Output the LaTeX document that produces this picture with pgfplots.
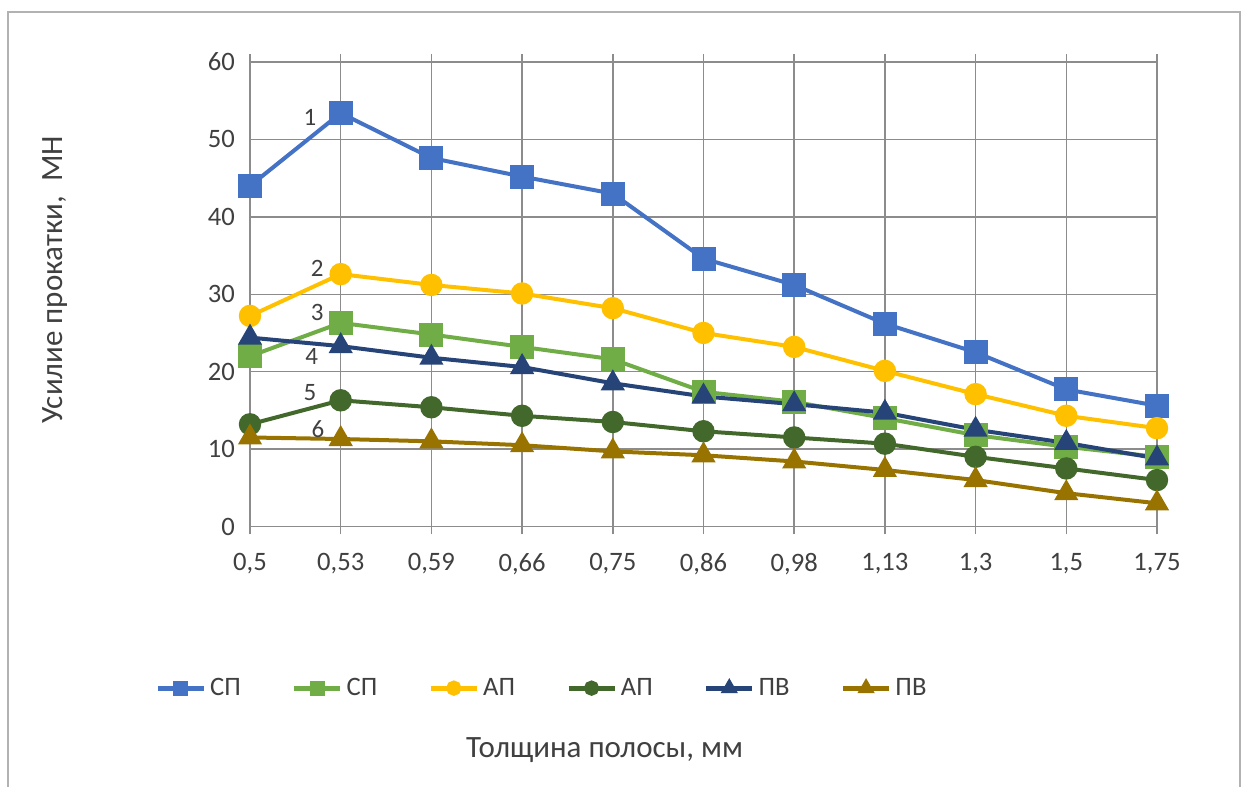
\documentclass[border=0pt]{standalone}
\usepackage{fontspec}
\setmainfont{Carlito}
\usepackage{pgfplots}
\pgfplotsset{compat=1.18}
\definecolor{cA}{HTML}{4472C4}
\definecolor{cB}{HTML}{70AD47}
\definecolor{cC}{HTML}{FFC000}
\definecolor{cD}{HTML}{43682B}
\definecolor{cE}{HTML}{264478}
\definecolor{cF}{HTML}{997300}
\definecolor{gridc}{HTML}{8C8C8C}
\definecolor{txt}{HTML}{404040}
\begin{document}
\begin{tikzpicture}[x=1pt,y=1pt]
\useasboundingbox (0,0) rectangle (622,393.5);
\draw[gray!60, line width=0.8pt] (4,-2) -- (4,387.5) -- (620,387.5) -- (620,-2);
\begin{axis}[
  at={(125pt,130.25pt)}, anchor=south west,
  scale only axis, width=453.5pt, height=232.25pt,
  xmin=0, xmax=10, ymin=0, ymax=60,
  xtick={0,...,10},
  xticklabels={{0,5},{0,53},{0,59},{0,66},{0,75},{0,86},{0,98},{1,13},{1,3},{1,5},{1,75}},
  ytick={0,10,...,60},
  grid=major,
  major grid style={gridc, line width=0.75pt},
  axis line style={gridc, line width=0.75pt},
  xtick align=outside, major tick length=4pt,
  x tick style={gridc, line width=0.75pt},
  y tick style={draw=none},
  /pgf/number format/assume math mode=true,
  tick label style={font=\fontsize{13.3}{15}\selectfont, text=txt},
  xticklabel style={yshift=-6pt},
  yticklabel style={xshift=-4pt},
  xlabel={Толщина полосы, мм},
  ylabel={Усилие прокатки,\ \ МН},
  label style={font=\fontsize{15.5}{17}\selectfont, text=txt},
  xlabel style={at={(axis description cs:0.391,-0.481)}, anchor=center},
  ylabel style={at={(axis description cs:-0.215,0.531)}, anchor=center},
  legend columns=6,
  legend style={at={(axis description cs:0.323,-0.348)}, anchor=center, draw=none,
    font=\fontsize{13.3}{15}\selectfont, text=txt,
    /tikz/every even column/.append style={column sep=23.5pt},
    inner sep=0pt},
  legend image code/.code={\draw[mark repeat=2,mark phase=2,mark size=2.6pt, line width=2.4pt] plot coordinates {(0pt,0pt) (11.5pt,0pt) (23pt,0pt)};},
  every axis plot/.append style={line width=2pt},
]
\addplot[cA, mark=square*, mark size=5pt] coordinates {(0,44.0) (1,53.4) (2,47.6) (3,45.2) (4,43.0) (5,34.6) (6,31.2) (7,26.2) (8,22.5) (9,17.7) (10,15.6)};
\addlegendentry{СП}
\addplot[cB, mark=square*, mark size=5pt] coordinates {(0,22.0) (1,26.3) (2,24.8) (3,23.2) (4,21.6) (5,17.4) (6,16.1) (7,14.0) (8,11.8) (9,10.3) (10,9.0)};
\addlegendentry{СП}
\addplot[cC, mark=*, mark size=4.6pt] coordinates {(0,27.2) (1,32.6) (2,31.2) (3,30.1) (4,28.2) (5,25.0) (6,23.2) (7,20.1) (8,17.1) (9,14.3) (10,12.7)};
\addlegendentry{АП}
\addplot[cD, mark=*, mark size=4.6pt] coordinates {(0,13.2) (1,16.3) (2,15.4) (3,14.3) (4,13.5) (5,12.3) (6,11.5) (7,10.7) (8,9.0) (9,7.5) (10,6.0)};
\addlegendentry{АП}
\addplot[cE, mark=triangle*, mark size=5pt] coordinates {(0,24.4) (1,23.3) (2,21.8) (3,20.6) (4,18.5) (5,16.8) (6,15.8) (7,14.7) (8,12.5) (9,10.8) (10,8.8)};
\addlegendentry{ПВ}
\addplot[cF, mark=triangle*, mark size=5pt] coordinates {(0,11.5) (1,11.3) (2,11.0) (3,10.5) (4,9.7) (5,9.2) (6,8.4) (7,7.3) (8,6.0) (9,4.3) (10,3.0)};
\addlegendentry{ПВ}
\node[font=\fontsize{12.5}{14}\selectfont, text=txt] at (axis cs:0.66,52.8) {1};
\node[font=\fontsize{12.5}{14}\selectfont, text=txt] at (axis cs:0.74,33.3) {2};
\node[font=\fontsize{12.5}{14}\selectfont, text=txt] at (axis cs:0.74,27.6) {3};
\node[font=\fontsize{12.5}{14}\selectfont, text=txt] at (axis cs:0.68,22.0) {4};
\node[font=\fontsize{12.5}{14}\selectfont, text=txt] at (axis cs:0.66,17.3) {5};
\node[font=\fontsize{12.5}{14}\selectfont, text=txt] at (axis cs:0.75,12.6) {6};
\end{axis}
\end{tikzpicture}
\end{document}
